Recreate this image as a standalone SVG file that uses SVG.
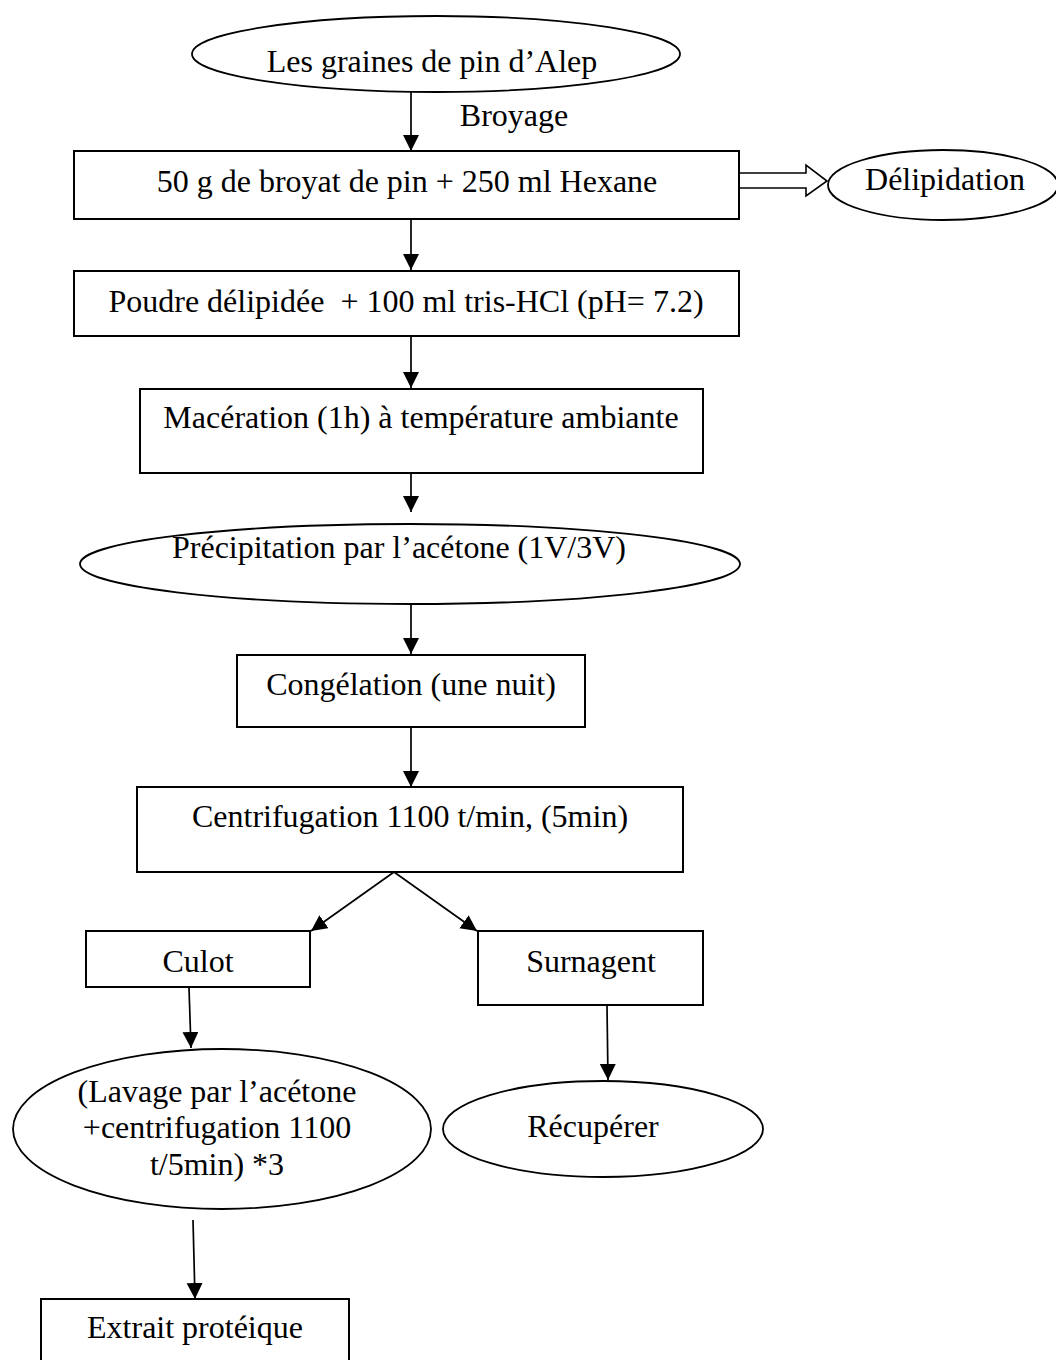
<svg xmlns="http://www.w3.org/2000/svg" width="1056" height="1360" viewBox="0 0 1056 1360">
<style>
.box{fill:#fff;stroke:#000;stroke-width:2}
.ell{fill:#fff;stroke:#000;stroke-width:1.8}
.t{font-family:"Liberation Serif","Times New Roman",serif;font-size:32px;fill:#000;text-anchor:middle;white-space:pre}
.c{stroke:#000;stroke-width:1.7;fill:none;marker-end:url(#ah)}
</style>
<defs>
<marker id="ah" markerUnits="userSpaceOnUse" markerWidth="18" markerHeight="18" refX="16" refY="8" orient="auto">
<path d="M0,0 L16,8 L0,16 z" fill="#000"/>
</marker>
</defs>
<rect width="1056" height="1360" fill="#fff"/>
<g id="connectors">
<line class="c" x1="411" y1="92" x2="411" y2="151"/>
<line class="c" x1="411" y1="219" x2="411" y2="270"/>
<line class="c" x1="411" y1="337" x2="411" y2="388"/>
<line class="c" x1="411" y1="474" x2="411" y2="512"/>
<line class="c" x1="411" y1="603" x2="411" y2="654"/>
<line class="c" x1="411" y1="727" x2="411" y2="787"/>
<line class="c" x1="394" y1="872" x2="311" y2="931"/>
<line class="c" x1="394" y1="872" x2="477" y2="931"/>
<line class="c" x1="189" y1="988" x2="191" y2="1048"/>
<line class="c" x1="607" y1="1006" x2="608" y2="1080"/>
<line class="c" x1="193" y1="1220" x2="195" y2="1299"/>
<path d="M740,173 H806 V165 L827,181 L806,196 V188 H740" fill="#fff" stroke="#000" stroke-width="1.6"/>
<text class="t" x="514" y="126">Broyage</text>
</g>
<g id="n1"><ellipse class="ell" cx="436" cy="54" rx="244" ry="38"/><text class="t" x="432" y="72">Les graines de pin d’Alep</text></g>
<g id="n2"><rect class="box" x="74" y="151" width="665" height="68"/><text class="t" x="407" y="192">50 g de broyat de pin + 250 ml Hexane</text></g>
<g id="n3"><ellipse class="ell" cx="943" cy="185" rx="115" ry="35"/><text class="t" x="945" y="190">Délipidation</text></g>
<g id="n4"><rect class="box" x="74" y="271" width="665" height="65"/><text class="t" x="406" y="312">Poudre délipidée  + 100 ml tris-HCl (pH= 7.2)</text></g>
<g id="n5"><rect class="box" x="140" y="389" width="563" height="84"/><text class="t" x="421" y="428">Macération (1h) à température ambiante</text></g>
<g id="n6"><ellipse class="ell" cx="410" cy="564" rx="330" ry="40"/><text class="t" x="399" y="558">Précipitation par l’acétone (1V/3V)</text></g>
<g id="n7"><rect class="box" x="237" y="655" width="348" height="72"/><text class="t" x="411" y="695">Congélation (une nuit)</text></g>
<g id="n8"><rect class="box" x="137" y="787" width="546" height="85"/><text class="t" x="410" y="827">Centrifugation 1100 t/min, (5min)</text></g>
<g id="n9"><rect class="box" x="86" y="931" width="224" height="56"/><text class="t" x="198" y="972">Culot</text></g>
<g id="n10"><rect class="box" x="478" y="931" width="225" height="74"/><text class="t" x="591" y="972">Surnagent</text></g>
<g id="n11"><ellipse class="ell" cx="222" cy="1129" rx="209" ry="80"/><text class="t" x="217" y="1102">(Lavage par l’acétone</text><text class="t" x="217" y="1138">+centrifugation 1100</text><text class="t" x="217" y="1175">t/5min) *3</text></g>
<g id="n12"><ellipse class="ell" cx="603" cy="1129" rx="160" ry="48"/><text class="t" x="593" y="1137">Récupérer</text></g>
<g id="n13"><rect class="box" x="41" y="1299" width="308" height="80"/><text class="t" x="195" y="1338">Extrait protéique</text></g>
</svg>
